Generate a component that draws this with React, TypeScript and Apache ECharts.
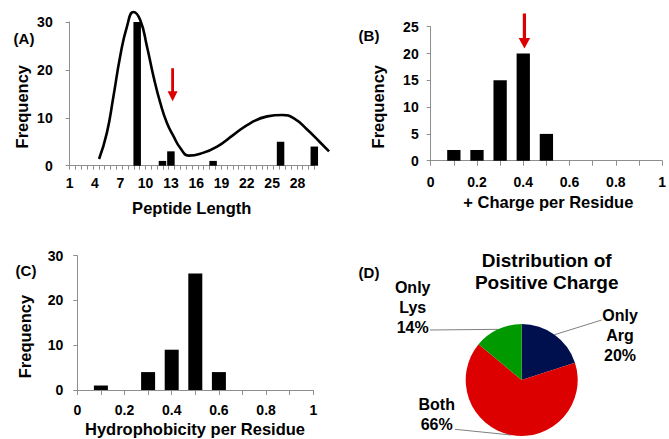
import React, { useEffect, useRef } from 'react';
import * as echarts from 'echarts';

// ---- Data ----
const lengthValues = [9, 12, 13, 18, 26, 30];
const lengthFreq = [30, 1, 3, 1, 5, 4];
const fitX = [4.48, 5.4, 6.18, 6.98, 7.78, 8.56, 9.36, 10.16, 10.94, 11.74, 12.53, 13.32, 14.11, 15.1, 16.49, 18.48, 20.45, 22.44, 24.42, 26.21, 27.59, 29.18, 30.56, 31.75];
const fitY = [1.4, 6.8, 14.4, 22.8, 29.0, 32.1, 30.4, 24.9, 18.6, 13.1, 8.9, 6.1, 3.7, 2.1, 2.5, 4.0, 6.5, 8.9, 10.3, 10.6, 9.9, 7.5, 5.1, 3.0];

const chargeBins = [0.1, 0.2, 0.3, 0.4, 0.5];
const chargeFreq = [2, 2, 15, 20, 5];

const hydroBins = [0.1, 0.3, 0.4, 0.5, 0.6];
const hydroFreq = [1, 4, 9, 26, 4];

const pieNames = ['Only Arg', 'Both', 'Only Lys'];
const pieValues = [20, 66, 14];
const pieColors = ['#00104f', '#dd0000', '#009a00'];

const arrowA = [13.2, 16.9];
const arrowB = [0.405, 24.2];
const arrowC = [0.506, 30.7];

// ---- Styles / layout ----
const FONT = '"Liberation Sans", Arial, sans-serif';
const AXIS_GRAY = '#8e8e8e';
const RED = '#dd0000';
const ARROW = 'path://M36,0 L64,0 L64,234 L100,234 L50,334 L0,234 L36,234 Z';

const A_LEFT = 69.7;
const A_UNIT = 244.6 / 29; // px per length unit on panel A
const CURVE_MAX = 32;

const PIE_CENTER = [521.7, 380];
const PIE_R = 56;
const PIE_LABELS = [
  { x: 620, y: 335, end: [601.7, 320] },
  { x: 436.7, y: 414, end: [455, 429.3] },
  { x: 412.7, y: 307.5, end: [430, 330] },
];

const tickLabel = { fontSize: 14, fontWeight: 'bold' as const, fontFamily: FONT, color: '#000' };

function txt(text: string, x: number, y: number, size: number, rotation = 0) {
  return {
    type: 'text',
    x,
    y,
    rotation,
    silent: true,
    style: {
      text,
      fontSize: size,
      fontWeight: 'bold',
      fontFamily: FONT,
      fill: '#000',
      align: 'center',
      verticalAlign: 'middle',
      lineHeight: 22,
    },
  };
}

function valueY(gridIndex: number, max: number, interval: number, margin: number) {
  return {
    type: 'value',
    gridIndex,
    min: 0,
    max,
    interval,
    axisLine: { show: true, lineStyle: { color: AXIS_GRAY, width: 1 } },
    axisTick: { show: true, length: 4, lineStyle: { color: AXIS_GRAY } },
    splitLine: { show: false },
    axisLabel: { ...tickLabel, margin },
  };
}

function fracX(gridIndex: number, margin: number) {
  return {
    type: 'value',
    gridIndex,
    min: 0,
    max: 1,
    interval: 0.1,
    axisLine: { show: true, onZero: false, lineStyle: { color: AXIS_GRAY, width: 1 } },
    axisTick: { show: true, length: 5, lineStyle: { color: AXIS_GRAY } },
    splitLine: { show: false },
    axisLabel: {
      ...tickLabel,
      margin,
      formatter: (v: number) => {
        const t = Math.round(v * 10);
        return t % 2 === 0 ? String(t / 10) : '';
      },
    },
  };
}

const hidden = { show: false };

export default function App() {
  const ref = useRef<HTMLDivElement>(null);
  useEffect(() => {
    if (!ref.current) return;
    const chart = echarts.init(ref.current, undefined, { renderer: 'svg' });
    const option: any = {
      animation: false,
      backgroundColor: '#fff',
      grid: [
        { left: A_LEFT, top: 22, width: 244.6, height: 143.7 },
        { left: 430.7, top: 26.7, width: 234.3, height: 134 },
        { left: 77.3, top: 255.7, width: 236, height: 134.3 },
        // overlay grid for the fitted curve (same scale as panel A, wider range)
        { left: A_LEFT, top: 22, width: A_UNIT * (CURVE_MAX - 1), height: 143.7 },
      ],
      xAxis: [
        {
          type: 'value',
          gridIndex: 0,
          min: 1,
          max: 30,
          interval: 1,
          position: 'bottom',
          axisLine: { show: true, onZero: false, lineStyle: { color: AXIS_GRAY, width: 1 } },
          axisTick: { show: false },
          splitLine: { show: false },
          axisLabel: {
            ...tickLabel,
            margin: 10,
            formatter: (v: number) => ((Math.round(v) - 1) % 3 === 0 ? String(Math.round(v)) : ''),
          },
        },
        {
          type: 'value',
          gridIndex: 0,
          min: 0,
          max: 42,
          interval: 1,
          position: 'bottom',
          axisLine: { show: false, onZero: false },
          axisTick: { show: true, length: 4, lineStyle: { color: AXIS_GRAY } },
          splitLine: { show: false },
          axisLabel: { show: false },
        },
        fracX(1, 14),
        fracX(2, 13),
        {
          type: 'value',
          gridIndex: 3,
          min: 1,
          max: CURVE_MAX,
          axisLine: hidden,
          axisTick: hidden,
          axisLabel: hidden,
          splitLine: hidden,
        },
      ],
      yAxis: [
        valueY(0, 30, 10, 17),
        valueY(1, 25, 5, 12),
        valueY(2, 30, 10, 14),
        {
          type: 'value',
          gridIndex: 3,
          min: 0,
          max: 30,
          axisLine: hidden,
          axisTick: hidden,
          axisLabel: hidden,
          splitLine: hidden,
        },
      ],
      series: [
        {
          type: 'bar',
          xAxisIndex: 0,
          yAxisIndex: 0,
          barWidth: 7.5,
          clip: true,
          itemStyle: { color: '#000' },
          data: lengthValues.map((v, i) => [v, lengthFreq[i]]),
          markPoint: {
            symbol: ARROW,
            symbolSize: [10, 33],
            silent: true,
            label: { show: false },
            itemStyle: { color: RED },
            data: [{ coord: arrowA }],
          },
        },
        {
          type: 'line',
          xAxisIndex: 4,
          yAxisIndex: 3,
          smooth: true,
          clip: false,
          showSymbol: false,
          symbol: 'none',
          lineStyle: { color: '#000', width: 2.6 },
          data: fitX.map((v, i) => [v, fitY[i]]),
        },
        {
          type: 'bar',
          xAxisIndex: 2,
          yAxisIndex: 1,
          barWidth: 13.3,
          itemStyle: { color: '#000' },
          data: chargeBins.map((v, i) => [v, chargeFreq[i]]),
          markPoint: {
            symbol: ARROW,
            symbolSize: [11.5, 35],
            silent: true,
            label: { show: false },
            itemStyle: { color: RED },
            data: [{ coord: arrowB }],
          },
        },
        {
          type: 'bar',
          xAxisIndex: 3,
          yAxisIndex: 2,
          barWidth: 14,
          itemStyle: { color: '#000' },
          data: hydroBins.map((v, i) => [v, hydroFreq[i]]),
          markPoint: {
            symbol: ARROW,
            symbolSize: [10, 35],
            silent: true,
            label: { show: false },
            itemStyle: { color: RED },
            data: [{ coord: arrowC }],
          },
        },
        {
          type: 'pie',
          center: PIE_CENTER,
          radius: PIE_R,
          startAngle: 90,
          clockwise: true,
          silent: true,
          itemStyle: { borderWidth: 0 },
          label: {
            show: true,
            position: 'outside',
            fontSize: 16,
            fontWeight: 'bold',
            fontFamily: FONT,
            color: '#000',
            lineHeight: 20,
            align: 'center',
            formatter: (p: any) => p.name.replace(' ', '\n') + '\n' + Math.round(p.percent) + '%',
          },
          labelLine: { show: true, lineStyle: { color: '#7f7f7f', width: 1 } },
          labelLayout: (params: any) => {
            const pos = PIE_LABELS[params.dataIndex];
            const start = params.labelLinePoints && params.labelLinePoints[0]
              ? params.labelLinePoints[0]
              : PIE_CENTER;
            return {
              x: pos.x,
              y: pos.y,
              align: 'center',
              verticalAlign: 'middle',
              labelLinePoints: [start, pos.end, pos.end],
            };
          },
          data: pieNames.map((n, i) => ({ name: n, value: pieValues[i], itemStyle: { color: pieColors[i] } })),
        },
      ],
      graphic: [
        txt('(A)', 24, 38.5, 15),
        txt('Frequency', 21.5, 106.7, 16.5, Math.PI / 2),
        txt('Peptide Length', 191.7, 208.3, 16.5),
        txt('(B)', 369, 35, 15),
        txt('Frequency', 377.5, 106.7, 16.5, Math.PI / 2),
        txt('+ Charge per Residue', 548.3, 201.7, 16.5),
        txt('(C)', 26, 270.5, 15),
        txt('Frequency', 25, 336.5, 16.5, Math.PI / 2),
        txt('Hydrophobicity per Residue', 195, 428.5, 16.5),
        txt('(D)', 369, 272.5, 15),
        txt('Distribution of\nPositive Charge', 546.7, 271, 19),
      ],
    };
    chart.setOption(option);
    return () => chart.dispose();
  }, []);
  return (
    <div
      ref={ref}
      style={{ position: 'absolute', left: 0, top: 0, width: 669, height: 439 }}
    />
  );
}
